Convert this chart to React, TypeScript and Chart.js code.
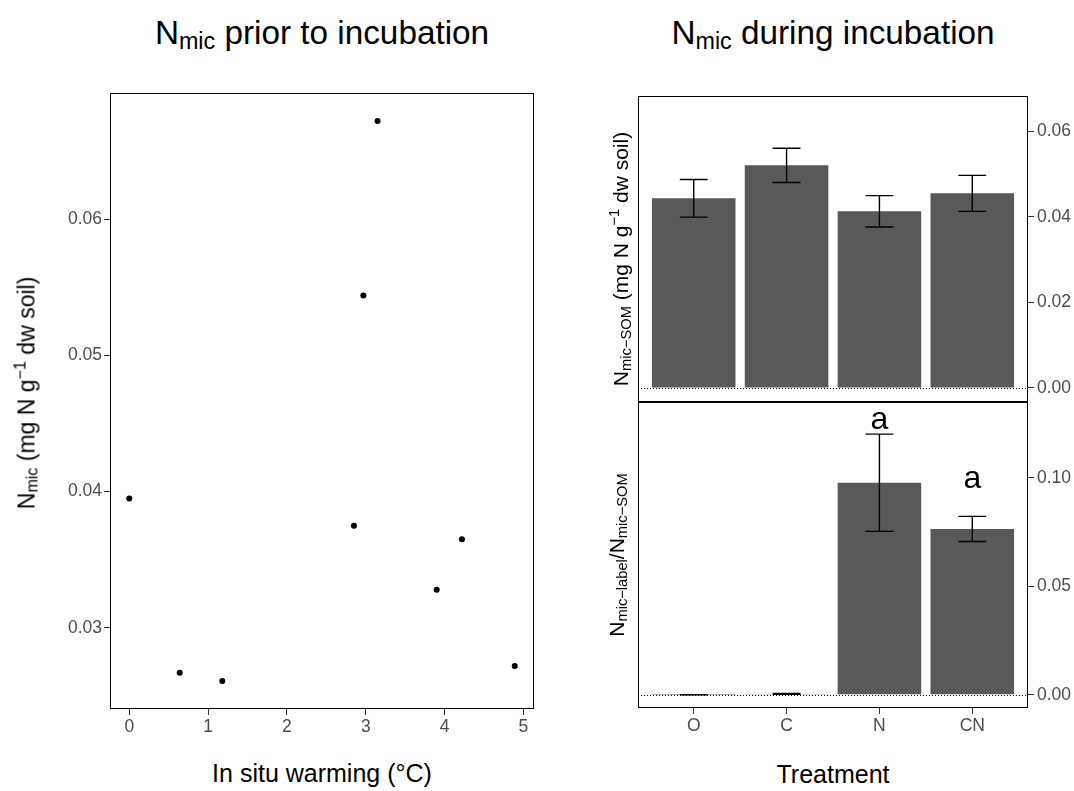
import React, { useEffect, useRef } from 'react';
import { Chart, registerables } from 'chart.js';

Chart.register(...registerables);

const FONT = "'Liberation Sans', Arial, Helvetica, sans-serif";

// ---- Left panel: N_mic prior to incubation ----
const warming = [0, 0.64, 1.18, 2.85, 2.97, 3.15, 3.9, 4.22, 4.89];
const nmicPrior = [0.0395, 0.0267, 0.0261, 0.0375, 0.0544, 0.0672, 0.0328, 0.0365, 0.0272];
const warmingTicks = [0, 1, 2, 3, 4, 5];
const priorTicks = [0.03, 0.04, 0.05, 0.06];

// ---- Right panels: N_mic during incubation ----
const treatments = ['O', 'C', 'N', 'CN'];
const somMean = [0.0443, 0.052, 0.04125, 0.04545];
const somSe = [0.0044, 0.004, 0.00366, 0.0042];
const somTicks = [0, 0.02, 0.04, 0.06];
const somRange = [-0.0033, 0.0682];

const ratioMean = [0.00002, 0.0004, 0.0977, 0.0764];
const ratioSe = [0.00005, 0.0002, 0.0224, 0.0058];
const ratioTicks = [0, 0.05, 0.1];
const ratioRange = [-0.0061, 0.1349];
const ratioLetters = ['', '', 'a', 'a'];
const ratioLetterY = [null, null, 0.1265, 0.0989];

const TICK_COLOR = '#4D4D4D';
const TICK_FONT = { family: FONT, size: 17.5 };

function expand(arr: number[]) {
  const mn = Math.min(...arr);
  const mx = Math.max(...arr);
  const r = mx - mn;
  return [mn - 0.05 * r, mx + 0.05 * r];
}

const framePlugin = {
  id: 'frame',
  afterDraw(chart: any) {
    const { ctx, chartArea: a } = chart;
    ctx.save();
    ctx.strokeStyle = '#000';
    ctx.lineWidth = 1;
    ctx.strokeRect(a.left + 0.5, a.top + 0.5, a.right - a.left - 1, a.bottom - a.top - 1);
    ctx.restore();
  },
};

const zeroLinePlugin = {
  id: 'zeroline',
  afterDatasetsDraw(chart: any) {
    const { ctx, chartArea: a, scales } = chart;
    const y = Math.round(scales.y.getPixelForValue(0)) + 0.5;
    ctx.save();
    ctx.strokeStyle = '#000';
    ctx.lineWidth = 1;
    ctx.setLineDash([1, 2]);
    ctx.beginPath();
    ctx.moveTo(a.left, y);
    ctx.lineTo(a.right, y);
    ctx.stroke();
    ctx.restore();
  },
};

function errorBarPlugin(means: number[], ses: number[]) {
  return {
    id: 'errbars',
    afterDatasetsDraw(chart: any) {
      const { ctx, scales } = chart;
      const x = scales.x;
      const y = scales.y;
      ctx.save();
      ctx.strokeStyle = '#000';
      ctx.lineWidth = 1.4;
      means.forEach((m, i) => {
        const px = x.getPixelForValue(i + 1);
        const hw = x.getPixelForValue(i + 1.15) - px;
        const yt = y.getPixelForValue(m + ses[i]);
        const yb = y.getPixelForValue(m - ses[i]);
        ctx.beginPath();
        ctx.moveTo(px, yt);
        ctx.lineTo(px, yb);
        ctx.moveTo(px - hw, yt);
        ctx.lineTo(px + hw, yt);
        ctx.moveTo(px - hw, yb);
        ctx.lineTo(px + hw, yb);
        ctx.stroke();
      });
      ctx.restore();
    },
  };
}

const lettersPlugin = {
  id: 'letters',
  afterDatasetsDraw(chart: any) {
    const { ctx, scales } = chart;
    const size = 32;
    ctx.save();
    ctx.font = `${size}px ${FONT}`;
    ctx.fillStyle = '#000';
    ctx.textAlign = 'center';
    ctx.textBaseline = 'alphabetic';
    ratioLetters.forEach((l, i) => {
      const v = ratioLetterY[i];
      if (!l || v === null) return;
      const px = scales.x.getPixelForValue(i + 1);
      const py = scales.y.getPixelForValue(v);
      ctx.fillText(l, px, py + 0.26 * size);
    });
    ctx.restore();
  },
};

function axisGrid() {
  return {
    display: true,
    drawOnChartArea: false,
    drawTicks: true,
    tickLength: 6,
    color: '#333333',
    lineWidth: 1,
    offset: false,
  };
}

function fixedTicks(values: number[]) {
  return (s: any) => {
    s.ticks = values.map((v) => ({ value: v }));
  };
}

function fitX(h: number) {
  return (s: any) => {
    s.height = h;
    s.paddingLeft = 0;
    s.paddingRight = 0;
  };
}

function fitY(w: number) {
  return (s: any) => {
    s.width = w;
    s.paddingTop = 0;
    s.paddingBottom = 0;
  };
}

function baseOptions(padding: any) {
  return {
    responsive: false,
    animation: false as const,
    layout: { padding },
    plugins: { legend: { display: false }, tooltip: { enabled: false } },
  };
}

function makeScatter() {
  const [xMin, xMax] = expand(warming);
  const [yMin, yMax] = expand(nmicPrior);
  return {
    type: 'scatter' as const,
    data: {
      datasets: [
        {
          data: warming.map((w, i) => ({ x: w, y: nmicPrior[i] })),
          backgroundColor: '#000',
          borderWidth: 0,
          pointRadius: 3,
        },
      ],
    },
    options: {
      ...baseOptions({ left: 0, top: 10, right: 10, bottom: 0 }),
      scales: {
        x: {
          type: 'linear',
          min: xMin,
          max: xMax,
          afterBuildTicks: fixedTicks(warmingTicks),
          afterFit: fitX(41),
          grid: axisGrid(),
          border: { display: false },
          ticks: { color: TICK_COLOR, font: TICK_FONT, padding: 2, maxRotation: 0, autoSkip: false, callback: (v: any) => String(v) },
        },
        y: {
          type: 'linear',
          min: yMin,
          max: yMax,
          afterBuildTicks: fixedTicks(priorTicks),
          afterFit: fitY(70),
          grid: axisGrid(),
          border: { display: false },
          ticks: { color: TICK_COLOR, font: TICK_FONT, padding: 2, autoSkip: false, callback: (v: any) => Number(v).toFixed(2) },
        },
      },
    },
    plugins: [framePlugin],
  };
}

function makeBars(means: number[], ses: number[], range: number[], yTicks: number[], showX: boolean, extra: any[]) {
  return {
    type: 'bar' as const,
    data: {
      datasets: [
        {
          data: treatments.map((t, i) => ({ x: i + 1, y: means[i] })),
          backgroundColor: '#595959',
          borderWidth: 0,
          barPercentage: 0.9,
          categoryPercentage: 1,
        },
      ],
    },
    options: {
      ...baseOptions({ left: 10, top: showX ? 0 : 10, right: 0, bottom: 0 }),
      scales: {
        x: {
          type: 'linear',
          min: 0.4,
          max: 4.6,
          offset: false,
          afterBuildTicks: fixedTicks(treatments.map((t, i) => i + 1)),
          afterFit: fitX(showX ? 37 : 0),
          grid: showX ? axisGrid() : { display: false },
          border: { display: false },
          ticks: {
            display: showX,
            color: TICK_COLOR,
            font: TICK_FONT,
            padding: 2,
            maxRotation: 0,
            autoSkip: false,
            callback: (v: any) => treatments[Math.round(Number(v)) - 1] ?? '',
          },
        },
        y: {
          type: 'linear',
          position: 'right',
          min: range[0],
          max: range[1],
          afterBuildTicks: fixedTicks(yTicks),
          afterFit: fitY(46),
          grid: axisGrid(),
          border: { display: false },
          ticks: { color: TICK_COLOR, font: TICK_FONT, padding: 3, autoSkip: false, callback: (v: any) => Number(v).toFixed(2) },
        },
      },
    },
    plugins: [zeroLinePlugin, errorBarPlugin(means, ses), ...extra, framePlugin],
  };
}

function ChartCanvas({ left, top, width, height, make }: any) {
  const ref = useRef<HTMLCanvasElement | null>(null);
  useEffect(() => {
    const chart = new Chart(ref.current as HTMLCanvasElement, make());
    return () => chart.destroy();
  }, []);
  return (
    <canvas
      ref={ref}
      width={width}
      height={height}
      style={{ position: 'absolute', left, top, width, height, display: 'block' }}
    />
  );
}

function Sub({ size, children }: any) {
  return (
    <span style={{ fontSize: '0.7em', verticalAlign: `${-0.15 * size}px`, lineHeight: 0 }}>{children}</span>
  );
}

function Sup({ size, children }: any) {
  return (
    <span style={{ fontSize: '0.7em', verticalAlign: `${0.4 * size}px`, lineHeight: 0 }}>{children}</span>
  );
}

function HLabel({ left, width, baseline, size, children }: any) {
  return (
    <div
      style={{
        position: 'absolute',
        left,
        width,
        top: baseline - 0.8465 * size,
        fontSize: size,
        lineHeight: 1,
        textAlign: 'center',
        whiteSpace: 'nowrap',
        color: '#000',
      }}
    >
      {children}
    </div>
  );
}

function VLabel({ baselineX, cy, size, children }: any) {
  const cx = baselineX - 0.3465 * size;
  return (
    <div style={{ position: 'absolute', left: cx, top: cy, width: 0, height: 0 }}>
      <div
        style={{
          position: 'absolute',
          left: 0,
          top: 0,
          fontSize: size,
          lineHeight: 1,
          whiteSpace: 'nowrap',
          color: '#000',
          transform: 'translate(-50%, -50%) rotate(-90deg)',
        }}
      >
        {children}
      </div>
    </div>
  );
}

export default function App() {
  const T = 33.3;
  const A = 25;
  const YL = 23;
  const YR = 21;
  return (
    <div
      style={{
        position: 'absolute',
        left: 0,
        top: 0,
        width: 1074,
        height: 791,
        background: '#fff',
        fontFamily: FONT,
        overflow: 'hidden',
      }}
    >
      <HLabel left={110} width={424} baseline={44.3} size={T}>
        N<Sub size={T}>mic</Sub> prior to incubation
      </HLabel>
      <HLabel left={638} width={390} baseline={44.3} size={T}>
        N<Sub size={T}>mic</Sub> during incubation
      </HLabel>

      <ChartCanvas left={40} top={83} width={504} height={667} make={makeScatter} />
      <ChartCanvas
        left={628}
        top={86}
        width={446}
        height={316}
        make={() => makeBars(somMean, somSe, somRange, somTicks, false, [])}
      />
      <ChartCanvas
        left={628}
        top={402}
        width={446}
        height={343}
        make={() => makeBars(ratioMean, ratioSe, ratioRange, ratioTicks, true, [lettersPlugin])}
      />

      <VLabel baselineX={34.6} cy={393} size={YL}>
        N<Sub size={YL}>mic</Sub> (mg N g<Sup size={YL}>−1</Sup> dw soil)
      </VLabel>
      <VLabel baselineX={627.7} cy={259} size={YR}>
        N<Sub size={YR}>mic−SOM</Sub> (mg N g<Sup size={YR}>−1</Sup> dw soil)
      </VLabel>
      <VLabel baselineX={623.3} cy={555} size={YR}>
        N<Sub size={YR}>mic−label</Sub>/N<Sub size={YR}>mic−SOM</Sub>
      </VLabel>

      <HLabel left={110} width={424} baseline={781.7} size={A}>
        In situ warming (°C)
      </HLabel>
      <HLabel left={638} width={390} baseline={783} size={A}>
        Treatment
      </HLabel>
    </div>
  );
}
